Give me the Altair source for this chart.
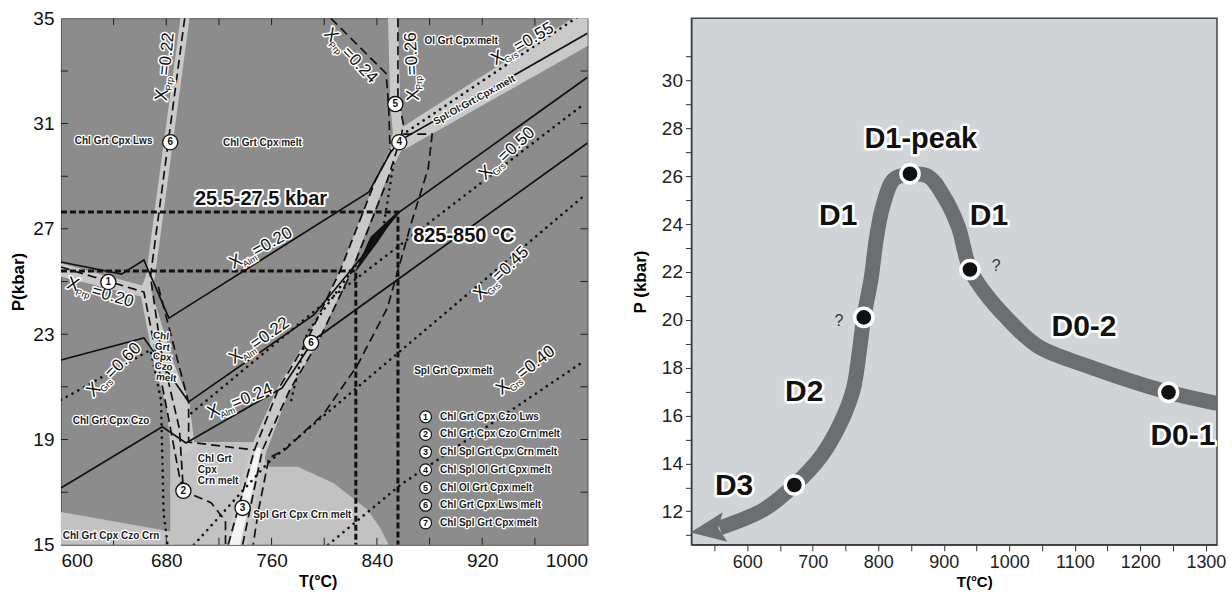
import altair as alt
import pandas as pd

FONT = "Liberation Sans"

# ====================== LEFT PANEL : P-T pseudosection ======================
L_T_DOMAIN = [600, 1000]
L_P_DOMAIN = [15, 35]
L_T_LABELS = [600, 680, 760, 840, 920, 1000]
L_P_LABELS = [15, 19, 23, 27, 31, 35]
L_T_TICKS = [640, 680, 720, 760, 800, 840, 880, 920, 960]
L_P_TICKS = [17, 19, 21, 23, 25, 27, 29, 31, 33]

# light assemblage fields (T, upper P) closed at 15 kbar
field_czo_crn = [(600, 16.25), (685, 15.5)]
field_crn_melt = [(683, 18.9), (748, 18.9), (758, 17.96), (780, 17.96), (807, 17.35),
                  (833, 16.33), (843, 15.6), (849, 15.0)]

# light narrow fields (T, P, width)
band_v = [(664, 24.7, 11), (678, 21.9, 19), (689, 20.3, 23), (692, 18.9, 24)]
band_prp020 = [(600, 25.44, 13), (664, 24.6, 11)]
band_prp022 = [(695, 35.3, 9), (668, 25.2, 9), (664, 24.6, 10)]
band_right = [(733, 15.0, 22), (750, 18.6, 16), (769, 20.9, 12), (790, 22.67, 11), (816, 25.4, 10),
              (843, 28.85, 10), (857, 30.29, 11), (854, 31.74, 10), (852, 35.3, 10)]
band_white = [(732, 15.0, 10), (741, 16.8, 8), (750, 18.6, 5)]
band_spl = [(858, 30.37, 20), (1012, 35.0, 33)]
peak_field = [(824, 25.4, 1), (838, 26.6, 9), (855, 27.6, 1)]

# solid isopleths
alm_020 = [(600, 25.74), (646, 25.28), (663, 25.82), (682, 23.61), (834, 28.40), (850, 29.88),
           (858, 30.37), (1000, 34.43)]
alm_022 = [(600, 22.02), (663, 22.86), (697, 20.43), (792, 23.73), (857, 27.64), (1000, 32.76)]
alm_024 = [(600, 17.16), (677, 19.48), (695, 18.87), (768, 20.96), (792, 22.78), (1000, 30.26)]

# dashed isopleths / boundaries
prp_022 = [(694, 35.0), (668, 25.2), (676, 22.4), (690, 19.4), (693, 17.05), (714, 16.6),
           (725, 15.9), (725, 15.0)]
prp_020 = [(600, 25.55), (663, 24.6), (681, 20.0), (690, 17.6), (693, 17.05)]
crn_dash = [(674, 24.8), (697, 20.4), (697, 18.9), (747, 18.6)]
band_left_dash = [(727, 15.0), (747, 18.6), (765, 20.9), (786, 22.67), (812, 25.4), (839, 28.85),
                  (851, 30.0)]
band_right_dash = [(738, 15.0), (753, 18.6), (774, 20.9), (795, 22.67), (821, 25.4), (848, 28.85),
                   (857, 30.29)]
ol_dash = [(860, 30.6), (882, 30.6), (879, 29.3), (866, 27.2), (848, 24.0), (825, 21.8),
           (800, 20.0), (770, 18.6), (758, 18.3), (750, 16.3), (746, 15.0)]
prp_024 = [(805, 35.0), (847, 32.9), (849, 31.6), (850, 30.0)]
prp_026 = [(856, 35.0), (856, 32.0), (860, 31.0), (858, 30.3)]

# dotted grossular isopleths
grs_060 = [(600, 20.5), (668, 22.4), (676, 20.5), (678, 16.2), (681, 15.0)]
grs_055 = [(863, 30.7), (1000, 35.3)]
grs_050 = [(699, 20.0), (797, 24.06), (998, 31.77)]
grs_045 = [(701, 15.0), (757, 18.1), (996, 28.2)]
grs_040 = [(803, 15.0), (858, 17.28), (998, 22.0)]
band_dot = [(775, 20.5), (787, 23.05), (845, 27.07), (853, 29.6)]

# peak P-T bracket (thick short-dashed)
bracket_hi = [(600, 27.64), (856, 27.64), (856, 15.0)]
bracket_lo = [(600, 25.4), (824, 25.4), (824, 15.0)]

# isopleth labels: T, P, angle, subscript, value
iso_labels = [
    (677, 32.08, 276, "Prp", "=0.22"),
    (868, 32.08, 267, "Prp", "=0.26"),
    (805, 34.35, 46, "Prp", "=0.24"),
    (609, 24.87, 16, "Prp", "=0.20"),
    (733, 25.74, 331, "Alm", "=0.20"),
    (733, 22.13, 325, "Alm", "=0.22"),
    (716, 20.05, 338, "Alm", "=0.24"),
    (625, 20.88, 315, "Grs", "=0.60"),
    (932, 33.48, 330, "Grs", "=0.55"),
    (923, 29.12, 317, "Grs", "=0.50"),
    (919, 24.56, 316, "Grs", "=0.45"),
    (936, 20.96, 322, "Grs", "=0.40"),
]

# field labels
field_labels_c = [
    ("Chl Grt Cpx Lws", 640, 30.33, 0),
    ("Chl Grt Cpx melt", 753, 30.26, 0),
    ("Ol Grt Cpx melt", 904, 34.13, 0),
    ("Spl.Ol.Grt.Cpx.melt", 914, 31.89, 331),
    ("Spl Grt Cpx melt", 898, 21.6, 0),
    ("Chl Grt Cpx Czo", 638, 19.7, 0),
    ("Chl Grt Cpx Czo Crn", 638, 15.34, 0),
    ("Chl", 676, 22.93, 6),
    ("Grt", 677, 22.51, 6),
    ("Cpx", 677, 22.13, 6),
    ("Czo", 678, 21.76, 6),
    ("melt", 680, 21.34, 6),
]
field_labels_l = [
    ("Chl Grt", 704, 18.26),
    ("Cpx", 704, 17.85),
    ("Crn melt", 704, 17.43),
    ("Spl Grt Cpx Crn melt", 746, 16.14),
]
big_labels = [("25.5-27.5 kbar", 752, 28.13), ("825-850 °C", 906, 26.73)]

# numbered invariant points
inv_points = [("1", 636, 24.98), ("2", 693, 17.05), ("3", 738, 16.4), ("4", 857, 30.29),
              ("5", 854, 31.74), ("6", 683, 30.29), ("6", 790, 22.67)]
legend_nums = ["1", "2", "3", "4", "5", "6", "7"]
legend_text = ["Chl Grt Cpx Czo Lws", "Chl Grt Cpx Czo Crn melt", "Chl Spl Grt Cpx Crn melt",
               "Chl Spl Ol Grt Cpx melt", "Chl Ol Grt Cpx melt", "Chl Grt Cpx Lws melt",
               "Chl Spl Grt Cpx melt"]
legend_P = [19.86, 19.19, 18.52, 17.85, 17.17, 16.50, 15.83]
legend_T_circle = 877
legend_T_text = 888

# ====================== RIGHT PANEL : P-T path ======================
R_T_DOMAIN = [515, 1317]
R_P_DOMAIN = [10.6, 32.6]
R_T_TICKS = [550, 600, 650, 700, 750, 800, 850, 900, 950, 1000, 1050, 1100, 1150, 1200, 1250, 1300]
R_P_TICKS = [11, 12, 13, 14, 15, 16, 17, 18, 19, 20, 21, 22, 23, 24, 25, 26, 27, 28, 29, 30, 31]
path_T = [558, 626, 672, 713, 743, 762, 771, 778, 789, 797, 807, 824, 848, 876, 900, 922, 940,
          961, 998, 1044, 1120, 1243, 1317]
path_P = [11.30, 12.08, 13.09, 14.30, 15.72, 17.10, 18.64, 20.10, 21.69, 23.36, 24.74, 25.87,
          26.08, 26.0, 25.16, 23.90, 22.11, 21.19, 20.02, 18.89, 18.06, 16.97, 16.51]
arrow_T, arrow_P = 540, 11.23
stage_T = [672, 778, 848.5, 940, 1243]
stage_P = [13.1, 20.1, 26.1, 22.1, 16.97]
stage_labels = [("D1-peak", 865, 27.54, 29), ("D1", 739, 24.32, 30), ("D1", 969, 24.32, 30),
                ("D0-2", 1114, 19.69, 30), ("D0-1", 1265, 15.13, 30), ("D2", 687, 16.97, 30),
                ("D3", 580, 13.04, 30)]
question_marks = [("?", 980, 22.23), ("?", 740, 19.94)]


# ---------------------------------------------------------------------------
def path_df(groups):
    rows = []
    for gid, pts in groups:
        for i, pt in enumerate(pts):
            r = {"id": gid, "o": i, "T": pt[0], "P": pt[1]}
            if len(pt) > 2:
                r["w"] = pt[2]
            rows.append(r)
    return pd.DataFrame(rows)


DARK = "#8c8c8c"
LIGHT = "#c2c2c2"
BAND = "#c9c9c9"

axLx = alt.Axis(values=L_T_LABELS, format="d", ticks=False, domain=False, grid=False,
                labelFontSize=19, labelFont=FONT, labelColor="#111", labelPadding=7,
                title="T(°C)", titleFont=FONT, titleFontSize=16, titleFontWeight="bold",
                titlePadding=3, titleX=257)
axLy = alt.Axis(values=L_P_LABELS, format="d", ticks=False, domain=False, grid=False,
                labelFontSize=19, labelFont=FONT, labelColor="#111", labelPadding=7,
                title="P(kbar)", titleFont=FONT, titleFontSize=17, titleFontWeight="bold",
                titlePadding=5)
LSX = alt.Scale(domain=L_T_DOMAIN, nice=False, zero=False)
LSY = alt.Scale(domain=L_P_DOMAIN, nice=False, zero=False)
LX = alt.X("T:Q", scale=LSX, axis=axLx)
LY = alt.Y("P:Q", scale=LSY, axis=axLy)
LYA = alt.Y("P:Q", scale=LSY, axis=axLy, stack=None)

layers = []

# light fields
for pts in (field_czo_crn, field_crn_melt):
    fd = pd.DataFrame([{"T": t, "P": p, "B": 15} for t, p in pts])
    layers.append(alt.Chart(fd).mark_area(color=LIGHT, clip=True, opacity=1).encode(
        x=LX, y=LYA, y2="B:Q"))

# bands
bands = path_df([("v", band_v), ("p20", band_prp020), ("p22", band_prp022), ("r", band_right),
                 ("spl", band_spl)])
layers.append(alt.Chart(bands).mark_trail(color=BAND, clip=True).encode(
    x=LX, y=LY, detail="id:N", order="o:Q", size=alt.Size("w:Q", scale=None)))
layers.append(alt.Chart(path_df([("w", band_white)])).mark_trail(color="#f4f4f4", clip=True).encode(
    x=LX, y=LY, detail="id:N", order="o:Q", size=alt.Size("w:Q", scale=None)))

# dotted
dotted = path_df([("g60", grs_060), ("g55", grs_055), ("g50", grs_050), ("g45", grs_045),
                  ("g40", grs_040), ("bd", band_dot)])
layers.append(alt.Chart(dotted).mark_line(color="#111", strokeWidth=2.6, strokeDash=[0.1, 6.5],
                                          strokeCap="round", clip=True).encode(
    x=LX, y=LY, detail="id:N", order="o:Q"))

# solid
solid = path_df([("a20", alm_020), ("a22", alm_022), ("a24", alm_024)])
layers.append(alt.Chart(solid).mark_line(color="#111", strokeWidth=1.7, clip=True).encode(
    x=LX, y=LY, detail="id:N", order="o:Q"))

# dashed
dashed = path_df([("p22", prp_022), ("p20", prp_020), ("crn", crn_dash), ("bl", band_left_dash),
                  ("br", band_right_dash), ("ol", ol_dash), ("p24", prp_024), ("p26", prp_026)])
layers.append(alt.Chart(dashed).mark_line(color="#111", strokeWidth=1.7, strokeDash=[9, 5],
                                          clip=True).encode(
    x=LX, y=LY, detail="id:N", order="o:Q"))

# bracket
brk = path_df([("hi", bracket_hi), ("lo", bracket_lo)])
layers.append(alt.Chart(brk).mark_line(color="#111", strokeWidth=3, strokeDash=[6, 3],
                                       clip=True).encode(
    x=LX, y=LY, detail="id:N", order="o:Q"))

# peak field
layers.append(alt.Chart(path_df([("pk", peak_field)])).mark_trail(color="#111", clip=True).encode(
    x=LX, y=LY, detail="id:N", order="o:Q", size=alt.Size("w:Q", scale=None)))

# inward ticks
tickrows_v = [{"T": t, "P": p} for t in L_T_TICKS for p in (15, 35)]
tickrows_h = [{"T": t, "P": p} for p in L_P_TICKS for t in (600, 1000)]
layers.append(alt.Chart(pd.DataFrame(tickrows_v)).mark_tick(orient="vertical", size=14, thickness=1,
                                                            color="#222", clip=True, opacity=1).encode(
    x=LX, y=LY))
layers.append(alt.Chart(pd.DataFrame(tickrows_h)).mark_tick(orient="horizontal", size=14, thickness=1,
                                                            color="#222", clip=True, opacity=1).encode(
    x=LX, y=LY))

# isopleth labels
iso = pd.DataFrame(iso_labels, columns=["T", "P", "angle", "sub", "val"])
for halo in (True, False):
    kw = dict(stroke="white", strokeWidth=3, strokeJoin="round", fill="white") if halo else dict(fill="#111")
    layers.append(alt.Chart(iso).mark_text(font=FONT, fontSize=18, align="center", baseline="middle",
                                           **kw).encode(
        x=LX, y=LY, text=alt.value("X"), angle=alt.Angle("angle:Q", scale=None)))
    layers.append(alt.Chart(iso).mark_text(font=FONT, fontSize=9, align="left", baseline="middle",
                                           dx=5, dy=6, **kw).encode(
        x=LX, y=LY, text="sub:N", angle=alt.Angle("angle:Q", scale=None)))
    layers.append(alt.Chart(iso).mark_text(font=FONT, fontSize=17, align="left", baseline="middle",
                                           dx=20, dy=0, **kw).encode(
        x=LX, y=LY, text="val:N", angle=alt.Angle("angle:Q", scale=None)))

# field labels
flc = pd.DataFrame(field_labels_c, columns=["txt", "T", "P", "angle"])
fll = pd.DataFrame(field_labels_l, columns=["txt", "T", "P"])
leg = pd.DataFrame({"txt": legend_text, "T": legend_T_text, "P": legend_P})
big = pd.DataFrame(big_labels, columns=["txt", "T", "P"])
for halo in (True, False):
    kw = dict(stroke="white", strokeWidth=2.6, strokeJoin="round", fill="white") if halo else dict(fill="#1a1a1a")
    layers.append(alt.Chart(flc).mark_text(font=FONT, fontSize=10, fontWeight="bold", align="center",
                                           baseline="middle", **kw).encode(
        x=LX, y=LY, text="txt:N", angle=alt.Angle("angle:Q", scale=None)))
    layers.append(alt.Chart(fll).mark_text(font=FONT, fontSize=10, fontWeight="bold", align="left",
                                           baseline="middle", **kw).encode(
        x=LX, y=LY, text="txt:N"))
    layers.append(alt.Chart(leg).mark_text(font=FONT, fontSize=10, fontWeight="bold", align="left",
                                           baseline="middle", **kw).encode(
        x=LX, y=LY, text="txt:N"))
    kwb = dict(stroke="white", strokeWidth=4, strokeJoin="round", fill="white") if halo else dict(fill="#111")
    layers.append(alt.Chart(big).mark_text(font=FONT, fontSize=20, fontWeight="bold", align="center",
                                           baseline="middle", **kwb).encode(
        x=LX, y=LY, text="txt:N"))

# numbered circles
invp = pd.DataFrame(inv_points, columns=["n", "T", "P"])
layers.append(alt.Chart(invp).mark_point(shape="circle", filled=True, fill="white", stroke="#111",
                                         strokeWidth=1.3, size=230, opacity=1).encode(x=LX, y=LY))
layers.append(alt.Chart(invp).mark_text(font=FONT, fontSize=10, fontWeight="bold", color="#111",
                                        baseline="middle").encode(x=LX, y=LY, text="n:N"))
legc = pd.DataFrame({"n": legend_nums, "T": legend_T_circle, "P": legend_P})
layers.append(alt.Chart(legc).mark_point(shape="circle", filled=True, fill="white", stroke="#111",
                                         strokeWidth=1.2, size=140, opacity=1).encode(x=LX, y=LY))
layers.append(alt.Chart(legc).mark_text(font=FONT, fontSize=9, fontWeight="bold", color="#111",
                                        baseline="middle").encode(x=LX, y=LY, text="n:N"))

left = alt.layer(*layers).properties(
    width=527, height=527, view=alt.ViewBackground(fill=DARK, stroke="#555", strokeWidth=1))

# ---------------------------------------------------------------------------
axRx = alt.Axis(values=R_T_TICKS, format="d",
                labelExpr="datum.value % 100 == 0 ? datum.label : ''",
                grid=False, domain=True, domainColor="#333", tickColor="#333", tickSize=6,
                labelFontSize=18, labelFont=FONT, labelColor="#222", labelPadding=3,
                title="T(°C)", titleFont=FONT, titleFontSize=15, titleFontWeight="bold",
                titlePadding=3, titleX=283)
axRy = alt.Axis(values=R_P_TICKS, format="d",
                labelExpr="datum.value % 2 == 0 ? datum.label : ''",
                grid=False, domain=True, domainColor="#333", tickColor="#333", tickSize=6,
                labelFontSize=19, labelFont=FONT, labelColor="#222", labelPadding=3,
                title="P (kbar)", titleFont=FONT, titleFontSize=17, titleFontWeight="bold",
                titlePadding=12)
RX = alt.X("T:Q", scale=alt.Scale(domain=R_T_DOMAIN, nice=False, zero=False), axis=axRx)
RY = alt.Y("P:Q", scale=alt.Scale(domain=R_P_DOMAIN, nice=False, zero=False), axis=axRy)

PATH = "#6c6f71"
pathdf = pd.DataFrame({"T": path_T, "P": path_P})
r_layers = [
    alt.Chart(pathdf).mark_line(color=PATH, strokeWidth=15, interpolate="catmull-rom",
                                clip=True).encode(x=RX, y=RY),
    alt.Chart(pd.DataFrame({"T": [arrow_T], "P": [arrow_P]})).mark_point(
        shape="M -1 0 L 1 -0.85 L 0.6 0 L 1 0.85 Z", filled=True, color=PATH, size=1225,
        angle=351, opacity=1).encode(x=RX, y=RY),
    alt.Chart(pd.DataFrame({"T": stage_T, "P": stage_P})).mark_circle(
        color="#111", stroke="white", strokeWidth=3.5, size=330, opacity=1).encode(x=RX, y=RY),
]
sl = pd.DataFrame(stage_labels, columns=["txt", "T", "P", "fs"])
for fs in sorted(set(sl["fs"])):
    sub = sl[sl["fs"] == fs]
    r_layers.append(alt.Chart(sub).mark_text(font=FONT, fontSize=int(fs), fontWeight="bold",
                                             stroke="white", strokeWidth=5, strokeJoin="round",
                                             fill="white", baseline="middle").encode(
        x=RX, y=RY, text="txt:N"))
    r_layers.append(alt.Chart(sub).mark_text(font=FONT, fontSize=int(fs), fontWeight="bold",
                                             fill="#111", baseline="middle").encode(
        x=RX, y=RY, text="txt:N"))
qm = pd.DataFrame(question_marks, columns=["txt", "T", "P"])
r_layers.append(alt.Chart(qm).mark_text(font=FONT, fontSize=16, fill="#333",
                                        baseline="middle").encode(x=RX, y=RY, text="txt:N"))

right = alt.layer(*r_layers).properties(
    width=526, height=527, view=alt.ViewBackground(fill="#d1d4d7", stroke="#444", strokeWidth=1.5))

chart = alt.hconcat(left, right, spacing=42).properties(
    padding={"left": 9, "top": 8, "right": 5, "bottom": 5}
).configure(font=FONT, background="white")

chart.save("out.html", embed_options={"renderer": "svg", "actions": False})
